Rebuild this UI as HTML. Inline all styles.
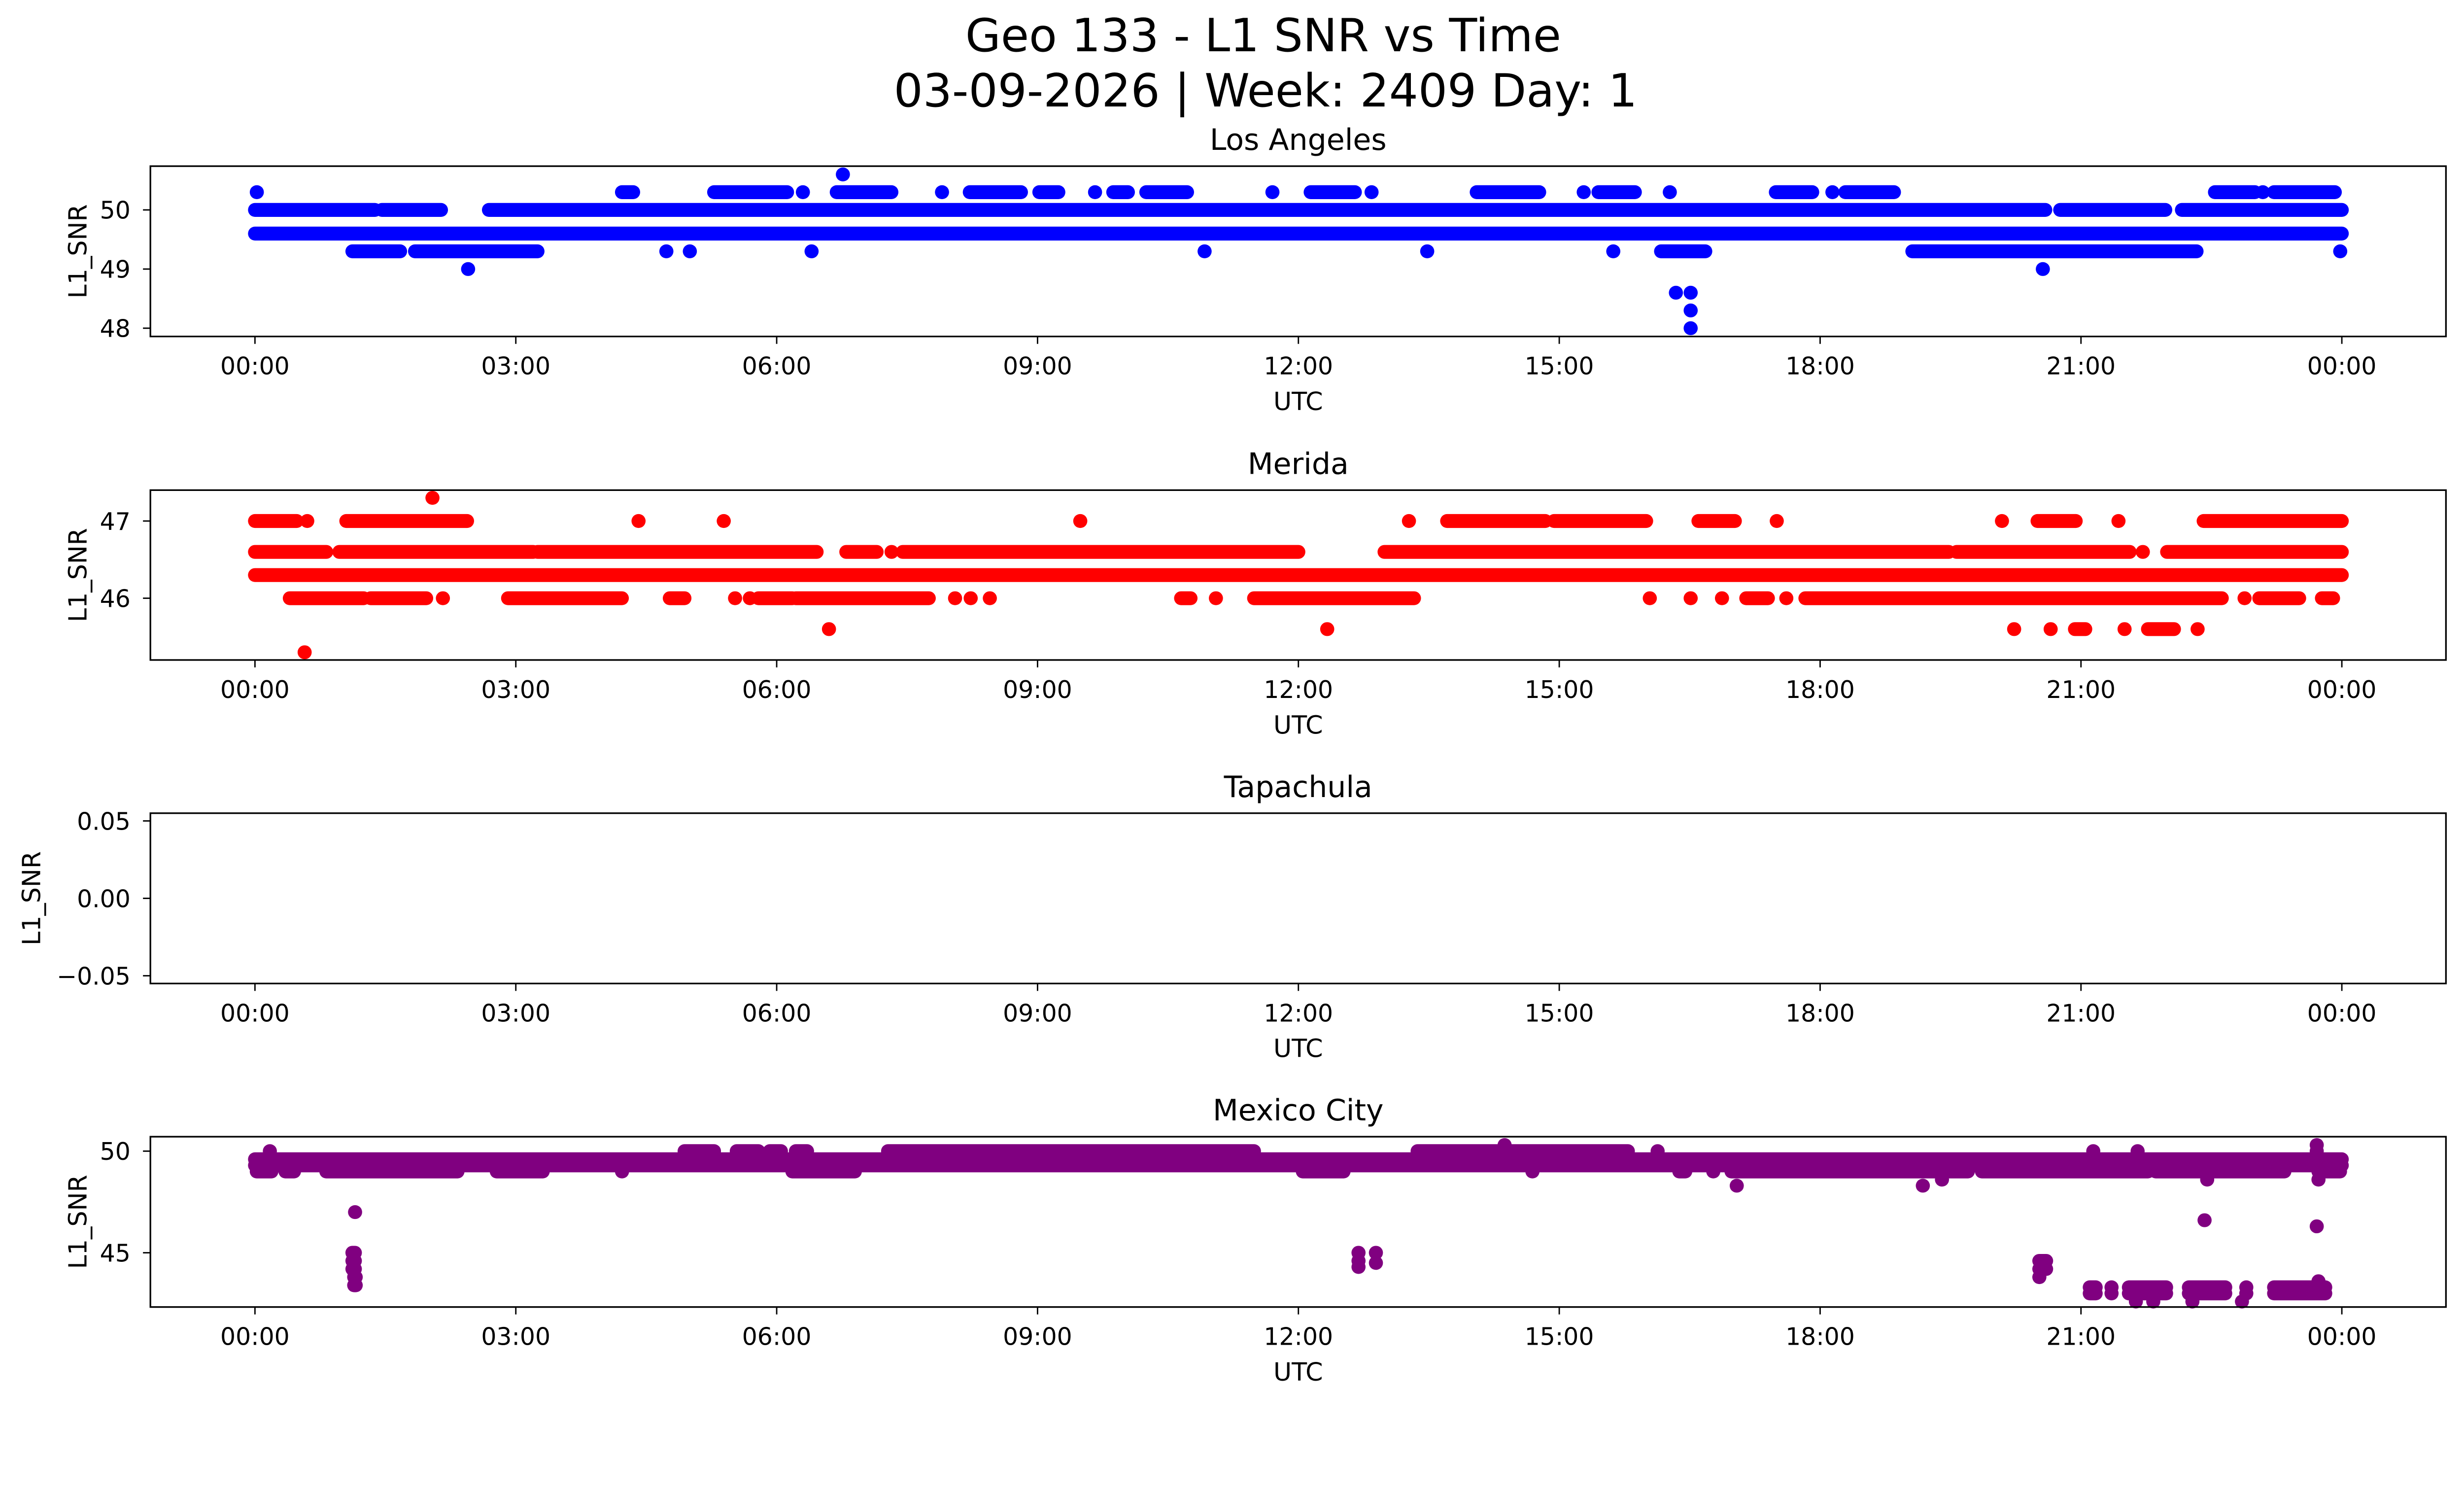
<!DOCTYPE html>
<html><head><meta charset="utf-8"><title>Geo 133 - L1 SNR vs Time</title>
<style>
html,body{margin:0;padding:0;background:#fff;overflow:hidden;width:100vw;height:100vh;}
svg{display:block;width:100vw;height:100vh;font-family:"DejaVu Sans","Liberation Sans",sans-serif;}
</style></head>
<body>
<svg id="fig" viewBox="0 0 5325 3033" preserveAspectRatio="xMinYMin meet" xmlns="http://www.w3.org/2000/svg">
<rect width="5325" height="3033" fill="#fff"/>
<text x="2730" y="111" font-size="99" text-anchor="middle">Geo 133 - L1 SNR vs Time</text>
<text x="2735" y="230" font-size="99" text-anchor="middle">03-09-2026 | Week: 2409 Day: 1</text>
</svg>
<script>
// x axis tick labels (hours -> label)
const xTickHours = [0,3,6,9,12,15,18,21,24];
const xTickLabels = ["00:00","03:00","06:00","09:00","12:00","15:00","18:00","21:00","00:00"];

// Los Angeles runs (start hour, end hour, L1 SNR)
const laStart = [0,0,1.46,2.69,20.76,22.16, 0.02,4.22,5.28,6.3,6.69,7.9,8.22,9.02,9.66,9.87,10.25,11.7,12.14,12.84,14.05,15.28,15.45,16.27,17.49,18.14,18.29,22.54,23.09,23.22, 6.76, 1.12,1.84,4.73,5.0,6.4,10.92,13.48,15.62,16.17,19.06,23.98, 2.45,20.56, 16.34,16.51,16.51,16.51];
const laEnd   = [24,1.38,2.14,20.59,21.97,24, 0.02,4.35,6.12,6.3,7.32,7.9,8.81,9.24,9.66,10.04,10.72,11.7,12.65,12.84,14.77,15.28,15.87,16.27,17.91,18.14,18.85,23.0,23.09,23.92, 6.76, 1.67,3.25,4.73,5.0,6.4,10.92,13.48,15.62,16.68,22.33,23.98, 2.45,20.56, 16.34,16.51,16.51,16.51];
const laValue = [49.6,50,50,50,50,50, 50.3,50.3,50.3,50.3,50.3,50.3,50.3,50.3,50.3,50.3,50.3,50.3,50.3,50.3,50.3,50.3,50.3,50.3,50.3,50.3,50.3,50.3,50.3,50.3, 50.6, 49.3,49.3,49.3,49.3,49.3,49.3,49.3,49.3,49.3,49.3,49.3, 49.0,49.0, 48.6,48.6,48.3,48.0];

// Merida runs
const meStart = [0, 2.04, 0,0.6,1.05,4.41,5.39,9.49,13.27,13.71,14.94,16.6,17.5,20.09,20.5,21.43,22.41,
  0,0.97,3.25,6.8,7.32,7.45,12.99,19.57,21.71,21.99,
  0.4,1.33,2.16,2.91,4.77,5.52,5.69,5.79,6.22,8.05,8.23,8.45,10.65,11.05,11.49,16.04,16.51,16.87,17.15,17.61,17.83,22.88,23.05,23.77,
  6.6,12.33,20.23,20.65,20.93,21.5,21.77,22.34, 0.57];
const meEnd   = [24, 2.04, 0.48,0.6,2.44,4.41,5.39,9.49,13.27,14.84,16.0,17.02,17.5,20.09,20.94,21.43,24,
  0.82,3.2,6.46,7.15,7.32,12.0,19.48,21.56,21.71,24,
  1.25,1.97,2.16,4.22,4.94,5.52,5.69,6.18,7.75,8.05,8.23,8.45,10.76,11.05,13.33,16.04,16.51,16.87,17.4,17.61,22.62,22.88,23.51,23.9,
  6.6,12.33,20.23,20.65,21.05,21.5,22.07,22.34, 0.57];
const meValue = [46.3, 47.3, 47,47,47,47,47,47,47,47,47,47,47,47,47,47,47,
  46.6,46.6,46.6,46.6,46.6,46.6,46.6,46.6,46.6,46.6,
  46,46,46,46,46,46,46,46,46,46,46,46,46,46,46,46,46,46,46,46,46,46,46,46,
  45.6,45.6,45.6,45.6,45.6,45.6,45.6,45.6, 45.3];

// Tapachula: no observations
const taStart = [];
const taEnd = [];
const taValue = [];

// Mexico City runs
const mxStart = [0,0,
  0.02,0.35,0.82,2.78,4.22,6.18,12.05,14.69,16.38,16.77,16.98,19.86,21.86,23.73,
  0.17,4.94,5.54,5.92,6.22,7.28,13.37,16.13,21.14,21.65,23.71,
  14.37,23.71, 19.4,22.45,23.73, 17.04,19.18, 1.15,
  1.12,1.12,1.12,1.14,1.14, 12.69,12.69,12.69,12.89,12.89, 20.52,20.52,20.52,
  22.42,23.71,
  21.1,21.35,21.55,22.24,22.9,23.22, 21.1,21.35,21.55,22.24,22.9,23.22, 21.63,21.83,22.28,22.85, 23.73];
const mxEnd   = [24,24,
  0.19,0.45,2.33,3.31,4.22,6.9,12.52,14.69,16.45,16.77,19.7,21.77,23.34,23.98,
  0.17,5.28,5.79,6.05,6.35,11.49,15.79,16.13,21.14,21.65,23.71,
  14.37,23.71, 19.4,22.45,23.73, 17.04,19.18, 1.15,
  1.15,1.15,1.15,1.16,1.16, 12.69,12.69,12.69,12.89,12.89, 20.6,20.6,20.52,
  22.42,23.71,
  21.17,21.35,21.98,22.66,22.9,23.81, 21.17,21.35,21.98,22.66,22.9,23.81, 21.63,21.83,22.28,22.85, 23.73];
const mxValue = [49.6,49.3,
  49.0,49.0,49.0,49.0,49.0,49.0,49.0,49.0,49.0,49.0,49.0,49.0,49.0,49.0,
  50.0,50.0,50.0,50.0,50.0,50.0,50.0,50.0,50.0,50.0,50.0,
  50.3,50.3, 48.6,48.6,48.6, 48.3,48.3, 47.0,
  45.0,44.6,44.2,43.8,43.4, 45.0,44.6,44.3,45.0,44.5, 44.6,44.2,43.8,
  46.6,46.3,
  43.3,43.3,43.3,43.3,43.3,43.3, 43.0,43.0,43.0,43.0,43.0,43.0, 42.6,42.6,42.6,42.6, 43.6];

const NS = "http://www.w3.org/2000/svg";
const svg = document.getElementById('fig');
const X0 = 325, X1 = 5286, H0 = 551, PXH = (5061-551)/24;
function xScale(h){ return H0 + h*PXH; }
function mk(tag, attrs, parent){
  const e = document.createElementNS(NS, tag);
  for (const k in attrs) e.setAttribute(k, attrs[k]);
  (parent||svg).appendChild(e);
  return e;
}

const panels = [
  {key:'los-angeles', title:'Los Angeles', top:359, bot:727, ymax:50.74, ymin:47.86, ticks:[48,49,50], tickLabels:['48','49','50'], color:'#0000ff', s:laStart, e:laEnd, v:laValue, ylx:187},
  {key:'merida', title:'Merida', top:1059, bot:1426, ymax:47.40, ymin:45.20, ticks:[46,47], tickLabels:['46','47'], color:'#ff0000', s:meStart, e:meEnd, v:meValue, ylx:187},
  {key:'tapachula', title:'Tapachula', top:1757, bot:2125, ymax:0.055, ymin:-0.055, ticks:[-0.05,0,0.05], tickLabels:['\u22120.05','0.00','0.05'], color:'#1f77b4', s:taStart, e:taEnd, v:taValue, ylx:87},
  {key:'mexico-city', title:'Mexico City', top:2456, bot:2824, ymax:50.71, ymin:42.33, ticks:[45,50], tickLabels:['45','50'], color:'#800080', s:mxStart, e:mxEnd, v:mxValue, ylx:187}
];

panels.forEach(p => {
  const g = mk('g', {});
  
  
  const yScale = v => p.top + (p.ymax - v) / (p.ymax - p.ymin) * (p.bot - p.top);
  const cg = mk('g', {fill:'none', stroke:p.color, 'stroke-width':30, 'stroke-linecap':'round'}, g);
  
  
  for (let i = 0; i < p.v.length; i++) {
    const y = yScale(p.v[i]);
    const xa = xScale(p.s[i]);
    let xb = xScale(p.e[i]);
    if (xb - xa < 0.5) xb = xa + 0.5;
    const ln = mk('line', {x1:xa, y1:y, x2:xb, y2:y}, cg);
    
    
  }
  const frame = mk('rect', {x:X0, y:p.top, width:X1-X0, height:p.bot-p.top, fill:'none', stroke:'#000', 'stroke-width':3.5}, g);
  
  
  xTickHours.forEach((h, i) => {
    const x = xScale(h);
    const t = mk('line', {x1:x, y1:p.bot, x2:x, y2:p.bot+16, stroke:'#000', 'stroke-width':3}, g);
    
    
    const tl = mk('text', {x:x, y:p.bot+82, 'font-size':52, 'text-anchor':'middle'}, g);
    tl.textContent = xTickLabels[i];
    
    
  });
  p.ticks.forEach((v, i) => {
    const y = yScale(v);
    const t = mk('line', {x1:X0-16, y1:y, x2:X0, y2:y, stroke:'#000', 'stroke-width':3}, g);
    
    
    const tl = mk('text', {x:282, y:y+19, 'font-size':52, 'text-anchor':'end'}, g);
    tl.textContent = p.tickLabels[i];
    
    
  });
  const xl = mk('text', {x:(X0+X1)/2, y:p.bot+159, 'font-size':54, 'text-anchor':'middle'}, g);
  xl.textContent = 'UTC';
  
  
  const cy = (p.top + p.bot) / 2;
  const yl = mk('text', {x:p.ylx, y:cy, 'font-size':54, 'text-anchor':'middle', transform:'rotate(-90 ' + p.ylx + ' ' + cy + ')'}, g);
  yl.textContent = 'L1_SNR';
  
  
  const tt = mk('text', {x:(X0+X1)/2, y:p.top-35, 'font-size':64, 'text-anchor':'middle'}, g);
  tt.textContent = p.title;
  
  
});
</script>
</body></html>
